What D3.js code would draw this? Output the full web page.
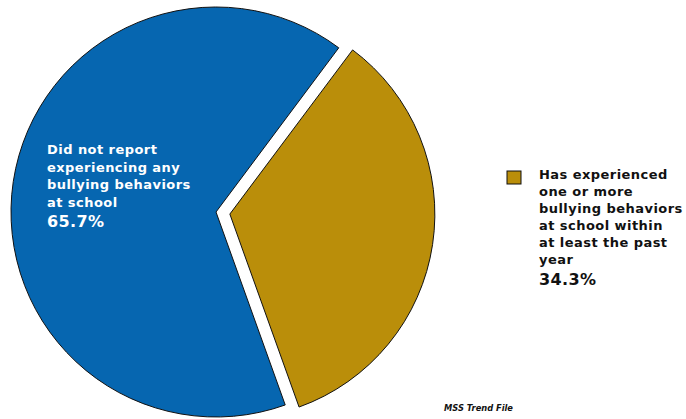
<!DOCTYPE html>
<html>
<head>
<meta charset="utf-8">
<script src="https://cdn.jsdelivr.net/npm/d3@7"></script>
<style>
  html, body { margin: 0; padding: 0; background: #fff; }
  svg { display: block; }
  text { font-family: "DejaVu Sans", Verdana, sans-serif; font-weight: bold; }
</style>
</head>
<body>
<svg id="chart" width="686" height="419"></svg>
<script>
// Share of students reporting bullying behaviors at school
const categories = ["Has experienced one or more bullying behaviors at school within at least the past year",
                    "Did not report experiencing any bullying behaviors at school"];
const values = [34.3, 65.7];
const labelLines = [
  ["Has experienced", "one or more", "bullying behaviors", "at school within", "at least the past", "year"],
  ["Did not report", "experiencing any", "bullying behaviors", "at school"]
];
const percentLabels = ["34.3%", "65.7%"];
const colors = ["#BA8E0A", "#0666B0"];

const svg = d3.select("#chart");
const cx = 216, cy = 212, radius = 205, explode = 14;

const pie = d3.pie()
  .sort(null)
  .value(d => d)
  .startAngle(0.642)
  .endAngle(0.642 + 2 * Math.PI);

const arc = d3.arc().innerRadius(0).outerRadius(radius);
const arcs = pie(values);

const g = svg.append("g").attr("transform", `translate(${cx},${cy})`);

g.selectAll("path.slice")
  .data(arcs)
  .join("path")
  .attr("class", "slice")
  .attr("d", arc)
  .attr("fill", (d, i) => colors[i])
  .attr("stroke", "#111")
  .attr("stroke-width", 1)
  .attr("transform", (d, i) => {
    if (i !== 0) return null;
    const mid = (d.startAngle + d.endAngle) / 2;
    return `translate(${explode * Math.sin(mid)},${-explode * Math.cos(mid)})`;
  });

// Label inside the larger slice
const inside = svg.append("text").attr("fill", "#fff").attr("font-size", 13).attr("letter-spacing", 0.45);
labelLines[1].forEach((line, k) => {
  inside.append("tspan").attr("x", 47).attr("y", 154 + k * 17.5).text(line);
});
inside.append("tspan").attr("x", 47).attr("y", 227).attr("font-size", 16).attr("letter-spacing", 0.4).text(percentLabels[1]);

// Legend for the exploded slice
svg.append("rect")
  .attr("x", 507).attr("y", 171).attr("width", 14).attr("height", 13)
  .attr("fill", colors[0]).attr("stroke", "#111").attr("stroke-width", 1);

const legend = svg.append("text").attr("fill", "#111").attr("font-size", 13).attr("letter-spacing", 0.45);
labelLines[0].forEach((line, k) => {
  legend.append("tspan").attr("x", 539).attr("y", 179 + k * 17).text(line);
});
legend.append("tspan").attr("x", 539).attr("y", 285).attr("font-size", 16).attr("letter-spacing", 0.4).text(percentLabels[0]);

svg.append("text")
  .attr("x", 444).attr("y", 411)
  .attr("font-size", 8.3).attr("font-style", "italic").attr("fill", "#111")
  .text("MSS Trend File");
</script>
</body>
</html>
